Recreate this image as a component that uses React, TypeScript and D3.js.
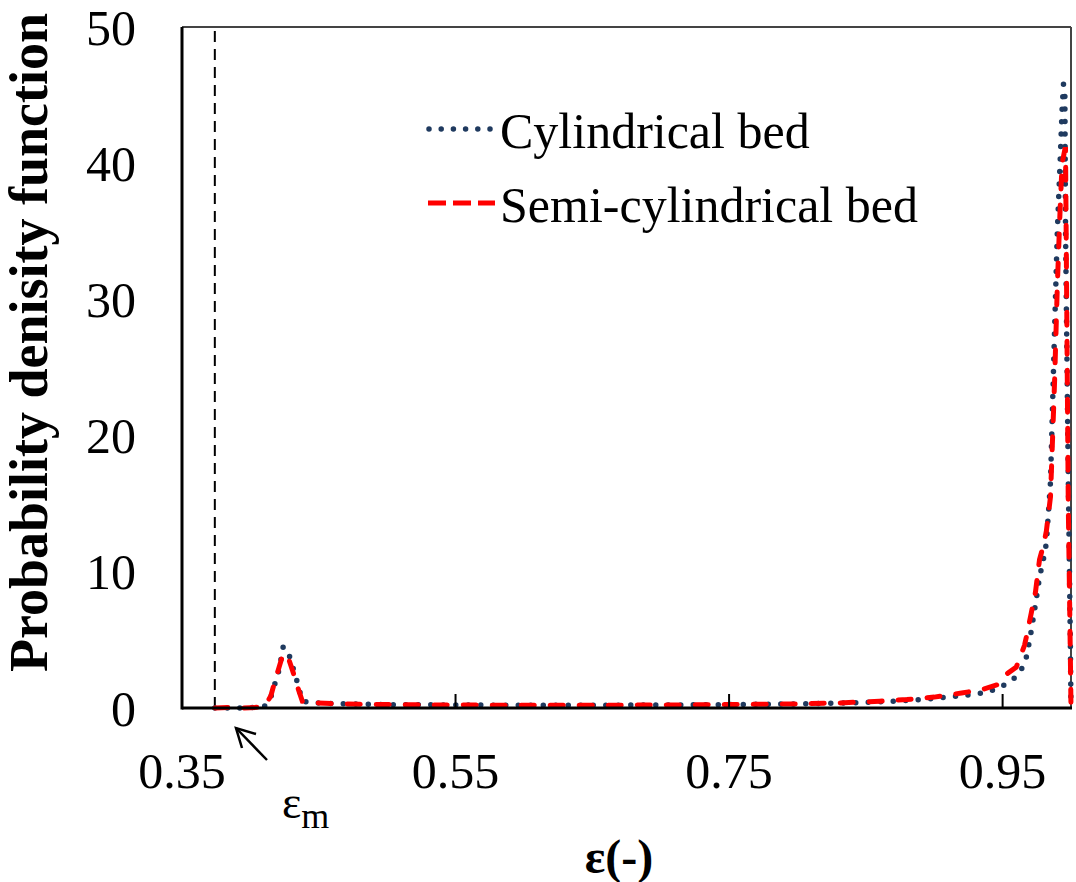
import React from "react";
import * as d3 from "d3";

// Porosity grid (ε) and probability density values of both beds
const porosity = [
  0.374, 0.385, 0.395, 0.405, 0.411, 0.415, 0.418, 0.421, 0.424, 0.428, 0.431,
  0.434, 0.438, 0.445, 0.46, 0.48, 0.5, 0.55, 0.6, 0.65, 0.7, 0.75, 0.8, 0.83,
  0.86, 0.88, 0.9, 0.92, 0.935, 0.946, 0.953, 0.96, 0.966, 0.968, 0.971, 0.974,
  0.977, 0.98, 0.982, 0.985, 0.988, 0.99, 0.992, 0.9935, 0.9945, 0.9955, 0.996,
  0.998, 0.9995, 1.0,
];

const cylindricalPdf = [
  0, 0, 0, 0.05, 0.15, 0.8, 1.8, 2.8, 4.5, 4.0, 3.0, 2.0, 0.5, 0.4, 0.32, 0.28,
  0.25, 0.22, 0.2, 0.2, 0.22, 0.25, 0.3, 0.35, 0.45, 0.55, 0.7, 0.9, 1.1, 1.4,
  1.8, 2.3, 3.2, 4.0, 5.7, 7.6, 9.6, 11.0, 12.1, 16.6, 27.8, 35, 40, 44, 45.8,
  45.5, 35, 17, 5, 0,
];

const semiCylindricalPdf = [
  0, 0.05, 0, 0.05, 0.2, 0.9, 2.0, 3.0, 4.0, 3.6, 2.7, 1.7, 0.5, 0.4, 0.32, 0.28,
  0.25, 0.22, 0.2, 0.2, 0.22, 0.25, 0.3, 0.37, 0.5, 0.62, 0.8, 1.1, 1.35, 1.7,
  2.5, 3.0, 4.6, 5.5, 7.0, 8.5, 10.9, 12.0, 13.0, 15.5, 24, 31, 36.5, 40, 40.5,
  41, 41, 15, 4, 0,
];

const xTicks = [0.35, 0.55, 0.75, 0.95];
const yTicks = [0, 10, 20, 30, 40, 50];
const minimumPorosity = 0.374;

const seriesNames = ["Cylindrical bed", "Semi-cylindrical bed"];

const W = 1076;
const H = 882;
const left = 182;
const right = 1071;
const top = 27;
const bottom = 708;
const serif = "'Liberation Serif', 'Times New Roman', serif";
const blue = "#1f3a5f";
const red = "#ff0000";

export default function App() {
  const x = d3.scaleLinear().domain([0.35, 1.0]).range([left, right]);
  const y = d3.scaleLinear().domain([0, 50]).range([bottom, top]);

  const line = d3
    .line<number>()
    .x((_, i) => x(porosity[i]))
    .y((d) => y(d));

  const cylPath = line(cylindricalPdf) || "";
  const semiPath = line(semiCylindricalPdf) || "";

  const em = x(minimumPorosity);

  return (
    <svg
      width={W}
      height={H}
      style={{ position: "absolute", left: 0, top: 0, background: "#fff" }}
    >
      <defs>
        <clipPath id="plot-clip">
          <rect x={left} y={top - 5} width={right - left + 3} height={bottom - top + 8} />
        </clipPath>
      </defs>

      {/* frame */}
      <line x1={left} y1={top} x2={right} y2={top} stroke="#444" strokeWidth={2} />
      <line x1={right} y1={top} x2={right} y2={bottom} stroke="#444" strokeWidth={2} />

      {/* minimum porosity marker */}
      <line
        x1={em}
        x2={em}
        y1={top + 4}
        y2={bottom}
        stroke="#000"
        strokeWidth={2}
        strokeDasharray="11 7"
      />

      {/* curves */}
      <g clipPath="url(#plot-clip)">
        <path
          d={cylPath}
          fill="none"
          stroke={blue}
          strokeWidth={5.5}
          strokeLinecap="round"
          strokeDasharray="0 12.5"
        />
        <path
          d={semiPath}
          fill="none"
          stroke={red}
          strokeWidth={5}
          strokeLinecap="round"
          strokeDasharray="13 16"
        />
      </g>

      {/* axes */}
      <line x1={left} y1={top} x2={left} y2={bottom + 1.5} stroke="#000" strokeWidth={3} />
      <line x1={left} y1={bottom} x2={right + 1} y2={bottom} stroke="#000" strokeWidth={3} />

      {xTicks.map((t) => (
        <g key={"xt" + t}>
          {t > 0.35 && (
            <line x1={x(t)} x2={x(t)} y1={bottom} y2={bottom - 14} stroke="#000" strokeWidth={2} />
          )}
          <text
            x={x(t)}
            y={788}
            textAnchor="middle"
            fontFamily={serif}
            fontSize={50}
            fill="#000"
          >
            {t.toFixed(2)}
          </text>
        </g>
      ))}

      {yTicks.map((t) => (
        <text
          key={"yt" + t}
          x={136}
          y={y(t)}
          dy="0.35em"
          textAnchor="end"
          fontFamily={serif}
          fontSize={50}
          fill="#000"
        >
          {t}
        </text>
      ))}

      {/* axis titles */}
      <text
        transform={`translate(47, 672) rotate(-90)`}
        textAnchor="start"
        fontFamily={serif}
        fontWeight="bold"
        fontSize={54}
        fill="#000"
      >
        Probability denisity function
      </text>
      <text
        x={619}
        y={873}
        textAnchor="middle"
        fontFamily={serif}
        fontWeight="bold"
        fontSize={48}
        fill="#000"
      >
        ε(-)
      </text>

      {/* ε_m annotation */}
      <line x1={267} y1={760} x2={236} y2={728} stroke="#000" strokeWidth={2.5} />
      <polyline
        points="256,734 236,728 242,748"
        fill="none"
        stroke="#000"
        strokeWidth={2.5}
        strokeLinejoin="miter"
      />
      <text x={282} y={818} fontFamily={serif} fontSize={46} fill="#000">
        ε
        <tspan fontSize={36} dy={10}>
          m
        </tspan>
      </text>

      {/* legend */}
      <line
        x1={429}
        x2={490}
        y1={129}
        y2={129}
        stroke={blue}
        strokeWidth={5.5}
        strokeLinecap="round"
        strokeDasharray="0 12.2"
      />
      <text x={500} y={148} fontFamily={serif} fontSize={50} fill="#000">
        {seriesNames[0]}
      </text>
      <line
        x1={428}
        x2={495}
        y1={203}
        y2={203}
        stroke={red}
        strokeWidth={5}
        strokeDasharray="18 7"
      />
      <text x={500} y={222} fontFamily={serif} fontSize={50} fill="#000">
        {seriesNames[1]}
      </text>
    </svg>
  );
}
